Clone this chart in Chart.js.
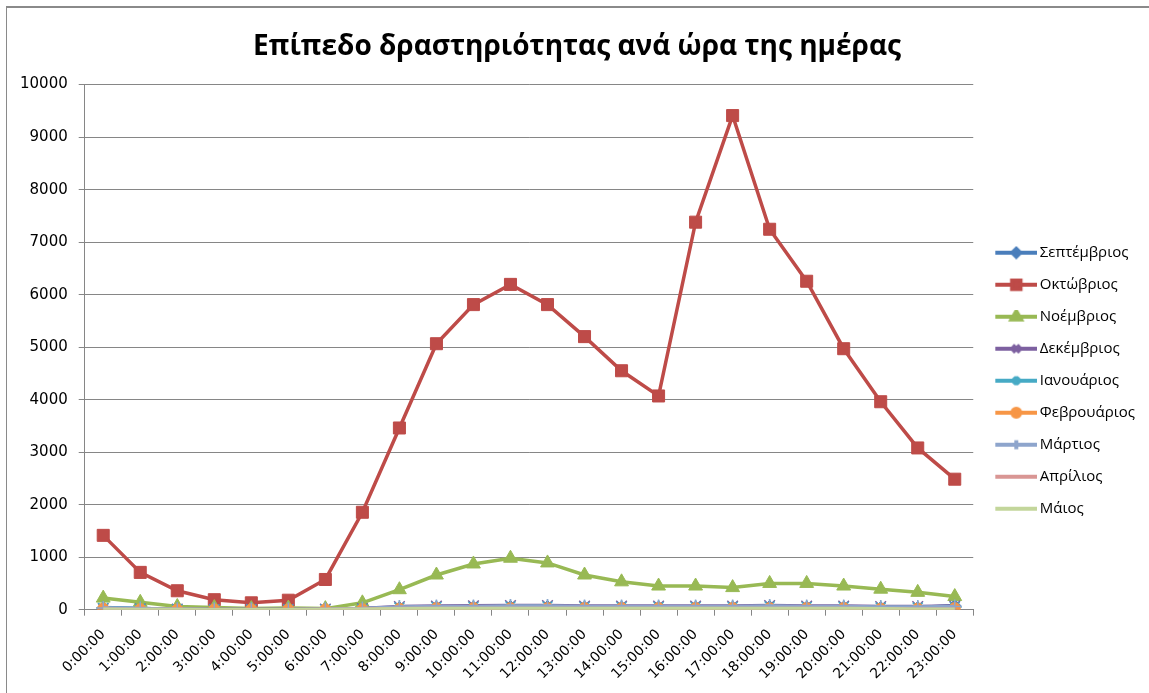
<!DOCTYPE html>
<html>
<head>
<meta charset="utf-8">
<script src="https://cdn.jsdelivr.net/npm/chart.js@4.4.1/dist/chart.umd.min.js"></script>
<style>
  html, body { margin: 0; padding: 0; background: #ffffff; overflow: hidden; }
  #wrap { position: relative; width: 1149px; height: 693px; }
  #frame { position: absolute; left: 6px; top: 6px; width: 1200px; height: 800px; border-left: 1px solid #8a8a8a; border-top: 2px solid #8a8a8a; pointer-events: none; }
  canvas { position: absolute; left: 0; top: 0; }
</style>
</head>
<body>
<div id="wrap">
  <canvas id="c" width="1149" height="693"></canvas>
  <div id="frame"></div>
</div>
<script>
const titleText = 'Επίπεδο δραστηριότητας ανά ώρα της ημέρας';
const hours = ['0:00:00','1:00:00','2:00:00','3:00:00','4:00:00','5:00:00','6:00:00','7:00:00','8:00:00','9:00:00','10:00:00','11:00:00','12:00:00','13:00:00','14:00:00','15:00:00','16:00:00','17:00:00','18:00:00','19:00:00','20:00:00','21:00:00','22:00:00','23:00:00'];
const yTicks = [0,1000,2000,3000,4000,5000,6000,7000,8000,9000,10000];
const seriesNames = ['Σεπτέμβριος','Οκτώβριος','Νοέμβριος','Δεκέμβριος','Ιανουάριος','Φεβρουάριος','Μάρτιος','Απρίλιος','Μάιος'];

const september = [40,20,10,10,5,5,10,20,40,50,50,60,60,50,50,50,50,50,60,50,50,40,40,80];
const october   = [1415,710,360,190,130,180,575,1855,3460,5065,5810,6195,5810,5200,4550,4070,7380,9410,7245,6255,4970,3960,3080,2485];
const november  = [220,140,60,40,20,30,20,130,380,660,870,980,890,660,530,450,450,420,500,500,450,390,330,250];
const december  = [20,15,10,5,5,5,10,20,60,70,75,80,80,70,70,70,70,70,80,70,70,60,60,70];
const january   = [30,20,10,5,5,5,5,10,40,50,50,60,60,50,50,50,50,50,60,50,50,40,40,50];
const february  = [20,10,5,5,5,5,5,10,20,30,30,30,30,30,30,30,30,30,30,30,30,20,20,30];
const march     = [30,20,10,5,5,5,10,20,50,60,60,70,70,60,60,60,60,60,70,60,60,50,50,60];
const april     = [10,5,5,0,0,0,5,10,20,20,20,20,20,20,20,20,20,20,20,20,20,15,10,10];
const may       = [10,5,5,0,0,0,5,10,15,20,20,20,20,20,20,20,20,20,20,20,20,15,10,10];

const seriesData = [september, october, november, december, january, february, march, april, may];
const colors  = ['#4A7EBB','#BE4B48','#98B954','#7D60A0','#46AAC5','#F79646','#8EA5CC','#D99694','#C3D69B'];
const markers = ['rectRot','rect','triangle','crossRot','star','circle','cross',false,false];
const radii   = [6,8.5,8,7.5,7,5.5,7,0,0];

function legendIcon(i) {
  const cv = document.createElement('canvas');
  cv.width = 52; cv.height = 14;
  const ctx = cv.getContext('2d');
  ctx.strokeStyle = colors[i];
  ctx.fillStyle = colors[i];
  ctx.lineWidth = 4;
  ctx.beginPath(); ctx.moveTo(10, 7); ctx.lineTo(52, 7); ctx.stroke();
  const m = markers[i];
  if (m) {
    Chart.helpers.drawPoint(ctx, { pointStyle: m, radius: Math.max(4, radii[i] - 2.5), borderWidth: 1.5 }, 31, 7);
  }
  return cv;
}

const datasets = seriesData.map((d, i) => ({
  label: seriesNames[i],
  data: d,
  borderColor: colors[i],
  backgroundColor: colors[i],
  pointBackgroundColor: colors[i],
  pointBorderColor: colors[i],
  borderWidth: 3.5,
  pointStyle: markers[i] || 'circle',
  pointRadius: radii[i],
  pointBorderWidth: (markers[i] === 'crossRot' || markers[i] === 'star' || markers[i] === 'cross') ? 1.5 : 1,
  tension: 0,
  order: 8 - i
}));

Chart.defaults.font.family = "'Open Sans', 'Noto Sans', sans-serif";
Chart.defaults.color = '#000000';

const yFont = { size: 15, family: "'DejaVu Sans', sans-serif" };
const xFont = { size: 14, family: "'DejaVu Sans', sans-serif" };

const chart = new Chart(document.getElementById('c'), {
  type: 'line',
  data: { labels: hours, datasets },
  options: {
    responsive: false,
    animation: false,
    layout: { padding: { left: 9, right: 4, top: 30, bottom: 0 } },
    plugins: {
      title: {
        display: true,
        text: titleText,
        color: '#000000',
        font: { size: 28, weight: 'bold', family: "'Open Sans', sans-serif" },
        padding: { top: 0, bottom: 21 }
      },
      legend: {
        position: 'right',
        title: { display: true, text: ' ', font: { size: 12, lineHeight: 1.2 }, padding: 12 },
        labels: {
          usePointStyle: true,
          pointStyleWidth: 42,
          padding: 17,
          color: '#000000',
          font: { size: 15 },
          sort: (a, b) => a.datasetIndex - b.datasetIndex,
          generateLabels: (ch) => ch.data.datasets.map((ds, i) => ({
            text: ds.label,
            datasetIndex: i,
            pointStyle: legendIcon(i),
            fillStyle: colors[i],
            strokeStyle: colors[i],
            lineWidth: 0,
            hidden: false,
            fontColor: '#000000'
          }))
        }
      },
      tooltip: { enabled: false }
    },
    scales: {
      x: {
        type: 'category',
        offset: true,
        grid: { offset: true, drawOnChartArea: false, drawTicks: true, tickLength: 6, color: '#868686' },
        border: { color: '#868686', width: 1 },
        ticks: { maxRotation: 45, minRotation: 45, autoSkip: false, font: xFont, color: '#000000', padding: 10.5 }
      },
      y: {
        min: 0,
        max: 10000,
        afterBuildTicks: (scale) => { scale.ticks = yTicks.map(v => ({ value: v })); },
        grid: { color: '#868686', tickLength: 6, lineWidth: 1 },
        border: { color: '#868686', width: 1 },
        ticks: { font: yFont, color: '#000000', padding: 11, callback: (v) => String(v) }
      }
    }
  }
});
</script>
</body>
</html>
